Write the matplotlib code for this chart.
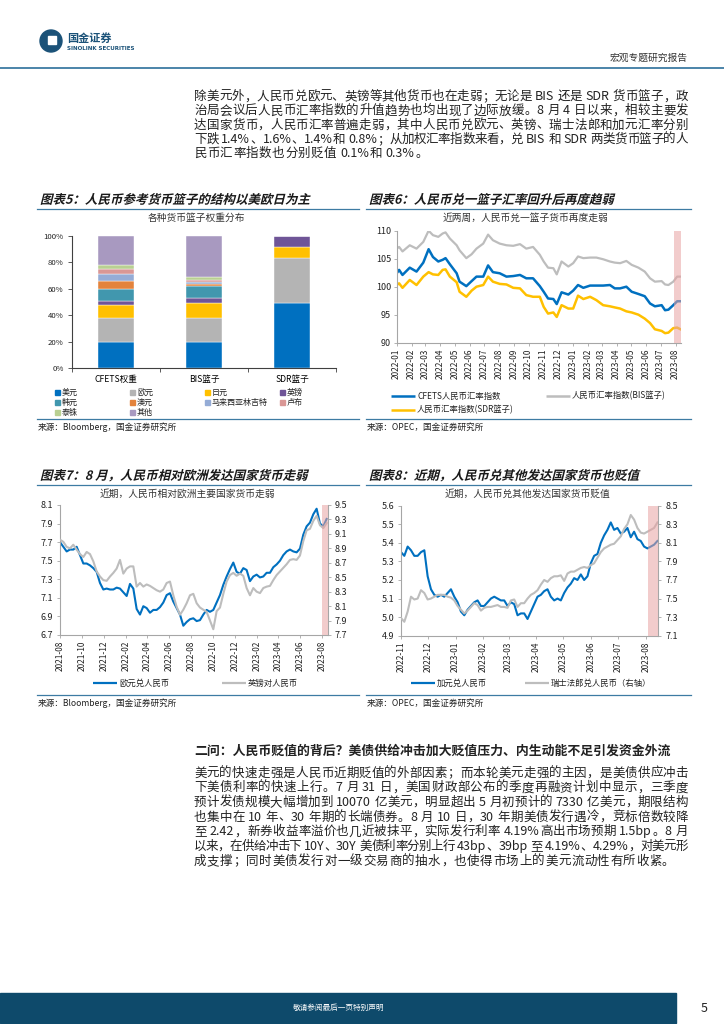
"""
Report page: RMB basket weights and exchange-rate charts
"""

import re
import pandas as pd
import matplotlib
matplotlib.use('Agg')
import matplotlib.pyplot as plt
import matplotlib.dates as mdates
from matplotlib.ticker import FormatStrFormatter
from matplotlib.patches import Rectangle, Circle, PathPatch
from matplotlib.textpath import TextPath
from matplotlib.font_manager import FontProperties
from matplotlib.transforms import Affine2D

plt.rcParams['font.family'] = ['Noto Sans CJK SC', 'DejaVu Sans']
plt.rcParams['axes.unicode_minus'] = False

# ---------------- data ----------------
# chart 5: basket weights (%)
currencies = ['美元', '欧元', '日元', '英镑', '韩元', '澳元', '马来西亚林吉特', '卢布', '泰铢', '其他']
baskets = ['CFETS权重', 'BIS篮子', 'SDR篮子']
cfets_w = [19.9, 17.9, 9.9, 2.9, 9.4, 6.1, 5.0, 3.8, 3.2, 21.9]
bis_w = [19.3, 18.4, 11.8, 3.3, 9.3, 1.5, 1.7, 1.3, 2.0, 31.4]
sdr_w = [49.3, 33.6, 8.6, 8.5, 0, 0, 0, 0, 0, 0]

# chart 6: RMB index vs baskets
idx_dates = ['2022-01-01', '2022-01-06', '2022-01-13', '2022-01-28', '2022-02-11', '2022-02-25',
             '2022-03-08', '2022-03-17', '2022-03-28', '2022-04-06', '2022-04-12', '2022-04-21',
             '2022-05-05', '2022-05-11', '2022-05-25', '2022-06-05', '2022-06-15', '2022-06-29',
             '2022-07-09', '2022-07-19', '2022-08-02', '2022-08-16', '2022-08-30', '2022-09-13',
             '2022-09-26', '2022-10-10', '2022-10-24', '2022-11-01', '2022-11-10', '2022-11-21',
             '2022-11-28', '2022-12-08', '2022-12-22', '2023-01-01', '2023-01-11', '2023-01-22',
             '2023-02-05', '2023-02-18', '2023-03-04', '2023-03-18', '2023-03-28', '2023-04-08',
             '2023-04-21', '2023-05-02', '2023-05-16', '2023-05-29', '2023-06-09', '2023-06-19',
             '2023-07-03', '2023-07-10', '2023-07-17', '2023-07-27', '2023-08-04', '2023-08-11']
cfets_idx = [102.4, 103.0, 102.1, 103.4, 102.7, 104.3, 106.7, 105.3, 104.5, 104.8,
             105.1, 104.0, 102.4, 100.9, 100.1, 101.0, 101.8, 101.8, 103.8, 102.6,
             102.4, 101.8, 101.9, 102.1, 101.5, 101.5, 100.1, 99.1, 97.9, 97.8,
             96.9, 99.0, 98.6, 99.3, 100.3, 99.8, 100.2, 100.2, 100.2, 100.3,
             99.7, 99.7, 100.0, 99.1, 98.7, 98.3, 97.0, 96.5, 96.7, 95.8,
             95.9, 96.7, 97.4, 97.4]
bis_idx = [106.8, 107.1, 106.3, 107.4, 106.8, 108.0, 110.0, 109.2, 108.9, 109.5,
           109.7, 108.6, 107.4, 106.5, 105.1, 105.8, 106.8, 107.7, 109.3, 108.3,
           107.7, 107.4, 107.3, 107.6, 106.8, 107.1, 105.7, 104.5, 103.4, 103.3,
           102.2, 104.5, 103.6, 104.2, 105.4, 105.1, 105.2, 105.2, 104.9, 104.5,
           104.3, 104.2, 104.6, 103.9, 103.4, 102.7, 101.5, 100.9, 101.0, 100.4,
           100.3, 100.9, 101.8, 101.8]
sdr_idx = [100.3, 100.6, 99.8, 101.2, 100.3, 101.8, 102.6, 102.2, 102.1, 103.0,
           103.1, 101.8, 100.8, 99.1, 98.2, 99.3, 100.0, 100.3, 101.8, 100.9,
           100.5, 100.4, 99.8, 99.7, 98.5, 98.2, 98.2, 96.4, 95.2, 95.4,
           94.6, 96.7, 96.1, 96.1, 98.4, 97.8, 98.2, 97.6, 96.7, 96.5,
           96.3, 96.1, 95.6, 95.4, 95.0, 94.3, 93.5, 92.4, 92.1, 91.7,
           91.8, 92.6, 92.7, 92.4]

# chart 7: EUR/CNY (left) and GBP/CNY (right), sampled every ~9 days
eur_gbp_dates = pd.date_range('2021-08-01', '2023-08-13', periods=81)
eur_cny = [7.70, 7.65, 7.60, 7.62, 7.62, 7.65, 7.56, 7.47, 7.47, 7.45,
           7.42, 7.38, 7.26, 7.19, 7.20, 7.19, 7.19, 7.21, 7.20, 7.16,
           7.12, 7.25, 7.20, 6.98, 6.92, 7.01, 6.99, 6.94, 6.97, 6.97,
           7.00, 7.05, 7.13, 7.15, 7.06, 6.99, 6.92, 6.80, 6.84, 6.87,
           6.88, 6.85, 6.86, 6.92, 6.97, 6.95, 6.97, 7.05, 7.13, 7.24,
           7.33, 7.41, 7.48, 7.38, 7.36, 7.42, 7.40, 7.28, 7.33, 7.35,
           7.32, 7.33, 7.37, 7.37, 7.43, 7.46, 7.50, 7.56, 7.60, 7.62,
           7.60, 7.59, 7.63, 7.78, 7.87, 7.91, 8.00, 8.06, 7.90, 7.87,
           7.95]
gbp_cny = [9.02, 8.99, 8.92, 8.90, 8.95, 8.88, 8.82, 8.78, 8.85, 8.82,
           8.72, 8.58, 8.51, 8.46, 8.45, 8.51, 8.56, 8.62, 8.74, 8.55,
           8.62, 8.65, 8.65, 8.37, 8.42, 8.37, 8.40, 8.38, 8.35, 8.32,
           8.30, 8.33, 8.42, 8.44, 8.25, 8.09, 7.98, 8.05, 8.14, 8.25,
           8.27, 8.14, 8.08, 8.05, 8.02, 7.90, 7.78, 8.03, 8.08, 8.27,
           8.44, 8.53, 8.56, 8.52, 8.55, 8.52, 8.35, 8.25, 8.35, 8.30,
           8.28, 8.35, 8.37, 8.38, 8.46, 8.53, 8.58, 8.63, 8.68, 8.74,
           8.75, 8.74, 8.80, 9.00, 9.15, 9.17, 9.28, 9.35, 9.22, 9.18,
           9.25]

# chart 8: CAD/CNY (left) and CHF/CNY (right), sampled every ~4 days
cad_chf_dates = pd.date_range('2022-11-01', '2023-08-14', periods=78)
cad_cny = [5.35, 5.33, 5.38, 5.36, 5.33, 5.33, 5.35, 5.36, 5.22, 5.15,
           5.12, 5.11, 5.12, 5.11, 5.13, 5.15, 5.11, 5.08, 5.03, 5.01,
           5.04, 5.06, 5.08, 5.09, 5.06, 5.06, 5.08, 5.10, 5.11, 5.10,
           5.09, 5.09, 5.06, 5.08, 5.07, 5.01, 5.02, 5.02, 4.99, 5.03,
           5.07, 5.11, 5.12, 5.14, 5.15, 5.11, 5.09, 5.10, 5.09, 5.13,
           5.16, 5.18, 5.21, 5.20, 5.23, 5.20, 5.22, 5.29, 5.33, 5.34,
           5.40, 5.44, 5.47, 5.51, 5.47, 5.48, 5.45, 5.46, 5.48, 5.43,
           5.46, 5.42, 5.41, 5.38, 5.37, 5.38, 5.39, 5.41]
chf_cny = [7.29, 7.25, 7.36, 7.52, 7.49, 7.50, 7.59, 7.56, 7.49, 7.50,
           7.52, 7.54, 7.54, 7.54, 7.52, 7.51, 7.48, 7.42, 7.38, 7.34,
           7.37, 7.41, 7.45, 7.43, 7.37, 7.40, 7.41, 7.41, 7.42, 7.43,
           7.41, 7.41, 7.40, 7.48, 7.49, 7.41, 7.45, 7.45, 7.50, 7.54,
           7.56, 7.59, 7.65, 7.70, 7.68, 7.72, 7.74, 7.74, 7.75, 7.69,
           7.77, 7.79, 7.79, 7.81, 7.83, 7.84, 7.83, 7.86, 7.88, 7.94,
           8.00, 8.04, 8.06, 8.08, 8.09, 8.13, 8.17, 8.25, 8.30, 8.40,
           8.35, 8.26, 8.21, 8.20, 8.22, 8.24, 8.26, 8.32]

para1 = ['除美元外，人民币兑欧元、英镑等其他货币也在走弱；无论是 BIS 还是 SDR 货币篮子，政',
         '治局会议后人民币汇率指数的升值趋势也均出现了边际放缓。8 月 4 日以来，相较主要发',
         '达国家货币，人民币汇率普遍走弱，其中人民币兑欧元、英镑、瑞士法郎和加元汇率分别',
         '下跌 1.4%、1.6%、1.4%和 0.8%；从加权汇率指数来看，兑 BIS 和 SDR 两类货币篮子的人',
         '民币汇率指数也分别贬值 0.1%和 0.3%。']
heading2 = '二问：人民币贬值的背后？美债供给冲击加大贬值压力、内生动能不足引发资金外流'
para2 = ['美元的快速走强是人民币近期贬值的外部因素；而本轮美元走强的主因，是美债供应冲击',
         '下美债利率的快速上行。7 月 31 日，美国财政部公布的季度再融资计划中显示，三季度',
         '预计发债规模大幅增加到 10070 亿美元，明显超出 5 月初预计的 7330 亿美元，期限结构',
         '也集中在 10 年、30 年期的长端债券。8 月 10 日，30 年期美债发行遇冷，竞标倍数较降',
         '至 2.42，新券收益率溢价也几近被抹平，实际发行利率 4.19%高出市场预期 1.5bp。8 月',
         '以来，在供给冲击下 10Y、30Y 美债利率分别上行 43bp、39bp 至 4.19%、4.29%，对美元形',
         '成支撑；同时美债发行对一级交易商的抽水，也使得市场上的美元流动性有所收紧。']

# ---------------- style ----------------
W, H = 724, 1024
LOGO = '#1b5278'
RULE = '#3d7ba3'
TXT = '#222222'
SPINE = '#a6a6a6'
BLUE = '#0070c0'
GRAY = '#bdbdbd'
GOLD = '#ffc000'
SHADE = '#e9a3a3'
colors5 = ['#0070c0', '#b4b4b4', '#ffc000', '#6f5597', '#4197ae',
           '#e3833c', '#95acd6', '#d99795', '#b9d092', '#a899c0']


def px_rect(x0, y0, x1, y1):
    return [x0 / W, 1 - y1 / H, (x1 - x0) / W, (y1 - y0) / H]


fig = plt.figure(figsize=(W / 100, H / 100), dpi=100)
bg = fig.add_axes([0, 0, 1, 1])
bg.set_xlim(0, W)
bg.set_ylim(H, 0)
bg.axis('off')
renderer = fig.canvas.get_renderer()


def put_line(s, y, x0=194, x1=688, size=9, justify=True):
    # place token by token so the line can be stretched to the full column width
    toks = re.findall(r'[A-Za-z0-9.%]+| |\S', s)
    em = size * 100 / 72
    objs, widths = [], []
    for t in toks:
        if t == ' ':
            objs.append(None)
            widths.append(3.0)
            continue
        o = bg.text(0, y, t, fontsize=size, va='center', color=TXT)
        objs.append(o)
        if t.isascii():
            widths.append(o.get_window_extent(renderer).width + 0.5)
        else:
            widths.append(em)
    n_gaps = sum(1 for o in objs if o is not None) - 1
    gap = (x1 - x0 - sum(widths)) / n_gaps if justify else 0.5
    x = x0
    for o, w in zip(objs, widths):
        if o is None:
            x += w
            continue
        o.set_x(x)
        x += w + gap


def slant_title(x, y, s, size_px=12.5):
    prop = FontProperties(family=['Noto Sans CJK SC', 'DejaVu Sans'], weight='bold')
    tp = TextPath((0, 0), s, size=size_px, prop=prop)
    tr = Affine2D().skew_deg(14, 0).scale(1, -1).translate(x, y)
    bg.add_patch(PathPatch(tr.transform_path(tp), fc='#1a1a1a', ec='none', lw=0))


def frame(x0, x1, y_title, y_src, title, source, subtitle, sub_x):
    slant_title(x0 + 3, y_title + 4.7, title)
    bg.plot([x0, x1], [y_title + 10, y_title + 10], color=RULE, lw=0.9)
    bg.text(sub_x, y_title + 19, subtitle, fontsize=7, ha='center', va='center', color='#333333')
    bg.plot([x0, x1], [y_src - 8, y_src - 8], color=RULE, lw=0.9)
    bg.text(x0 + 1, y_src, source, fontsize=6.2, va='center', color=TXT)


def line_legend(x, y, color, label, lw=1.8):
    bg.plot([x, x + 24], [y, y], color=color, lw=lw, solid_capstyle='butt')
    bg.text(x + 26, y, label, fontsize=6, va='center', color=TXT)


def style_axes(ax, spine_color=SPINE):
    ax.set_facecolor('none')
    for side in ['top', 'right']:
        ax.spines[side].set_visible(False)
    for side in ['left', 'bottom']:
        ax.spines[side].set_color(spine_color)
        ax.spines[side].set_linewidth(0.8)
    ax.tick_params(axis='both', labelsize=6.2, length=2, width=0.6,
                   color=spine_color, labelcolor=TXT, pad=2)


# ---------------- header / footer ----------------
bg.add_patch(Circle((51, 41), 11, color=LOGO))
bg.add_patch(Rectangle((48, 36), 8, 8, color='white'))
bg.text(67, 38, '国金证券', fontsize=8, fontweight='bold', color=LOGO, va='center')
bg.text(67, 48.5, 'SINOLINK SECURITIES', fontsize=4, fontweight='bold', color=LOGO,
        va='center', family='DejaVu Sans')
bg.text(688, 58, '宏观专题研究报告', fontsize=7, ha='right', va='center', color='#333333')
bg.plot([0, W], [68, 68], color=RULE, lw=1.3)

bg.add_patch(Rectangle((0, 993), 676, 30, color='#0e4a6b'))
bg.text(339, 1008, '敬请参阅最后一页特别声明', color='white', fontsize=5.5, ha='center', va='center')
bg.text(704, 1008, '5', fontsize=9, ha='center', va='center', color=TXT)

# ---------------- body text ----------------
for i, s in enumerate(para1):
    put_line(s, 96.7 + 14.2 * i, justify=(i < len(para1) - 1))
bg.text(194, 751, heading2, fontsize=9.3, fontweight='bold', va='center', color=TXT)
for i, s in enumerate(para2):
    put_line(s, 773 + 14.7 * i, justify=(i < len(para2) - 1))

# ---------------- chart 5: stacked bars ----------------
frame(37, 359, 199, 427, '图表5：人民币参考货币篮子的结构以美欧日为主',
      '来源：Bloomberg，国金证券研究所', '各种货币篮子权重分布', 196)
ax5 = fig.add_axes(px_rect(72, 235.7, 336, 368))
style_axes(ax5, '#404040')
weights = [cfets_w, bis_w, sdr_w]
bottoms = [0, 0, 0]
for k, name in enumerate(currencies):
    vals = [w[k] for w in weights]
    ax5.bar(range(3), vals, width=0.41, bottom=bottoms, color=colors5[k],
            edgecolor='white', linewidth=0.3)
    bottoms = [b + v for b, v in zip(bottoms, vals)]
ax5.set_xlim(-0.5, 2.5)
ax5.set_ylim(0, 100)
ax5.set_yticks([0, 20, 40, 60, 80, 100])
ax5.set_yticklabels(['%d%%' % v for v in [0, 20, 40, 60, 80, 100]])
ax5.set_xticks([-0.5, 0.5, 1.5, 2.5])
ax5.set_xticklabels([])
ax5.set_xticks([0, 1, 2], minor=True)
ax5.set_xticklabels(baskets, minor=True)
ax5.tick_params(axis='both', which='major', length=3, labelsize=5.6, pad=3)
ax5.tick_params(axis='x', which='minor', length=0, labelsize=6.2, pad=5)

for i, name in enumerate(currencies):
    r, c = divmod(i, 4)
    x, y = 57 + c * 75, 392 + r * 10.2
    bg.add_patch(Rectangle((x - 2.5, y - 2.5), 5, 5, color=colors5[i]))
    bg.text(x + 5, y, name, fontsize=5.8, va='center', color=TXT)

# ---------------- chart 6: index lines ----------------
frame(366, 691, 199, 427, '图表6：人民币兑一篮子汇率回升后再度趋弱',
      '来源：OPEC，国金证券研究所', '近两周，人民币兑一篮子货币再度走弱', 525)
ax6 = fig.add_axes(px_rect(396.7, 230.7, 681, 342.7))
style_axes(ax6)
d6 = pd.to_datetime(idx_dates)
ax6.plot(d6, bis_idx, color=GRAY, lw=1.6)
ax6.plot(d6, sdr_idx, color=GOLD, lw=1.8)
ax6.plot(d6, cfets_idx, color=BLUE, lw=1.8)
ax6.axvspan(pd.Timestamp('2023-07-28'), pd.Timestamp('2023-08-12'), color=SHADE, alpha=0.55,
            lw=0, zorder=3)
ax6.set_xlim(pd.Timestamp('2022-01-01'), pd.Timestamp('2023-08-12'))
ax6.set_ylim(90, 110)
ax6.set_yticks([90, 95, 100, 105, 110])
ax6.xaxis.set_major_locator(mdates.MonthLocator())
ax6.xaxis.set_major_formatter(mdates.DateFormatter('%Y-%m'))
ax6.tick_params(axis='x', labelrotation=90, labelsize=6)
ax6.tick_params(axis='y', labelsize=6.5)

line_legend(391, 396, BLUE, 'CFETS人民币汇率指数')
line_legend(546, 396, GRAY, '人民币汇率指数(BIS篮子)')
line_legend(391, 410, GOLD, '人民币汇率指数(SDR篮子)')

# ---------------- chart 7: EUR & GBP ----------------
frame(37, 359, 475, 703, '图表7：8 月，人民币相对欧洲发达国家货币走弱',
      '来源：Bloomberg，国金证券研究所', '近期，人民币相对欧洲主要国家货币走弱', 187)
ax7 = fig.add_axes(px_rect(60, 505, 327.7, 635))
style_axes(ax7)
ax7.plot(eur_gbp_dates, eur_cny, color=BLUE, lw=1.5)
ax7.set_xlim(pd.Timestamp('2021-08-01'), pd.Timestamp('2023-08-16'))
ax7.set_ylim(6.7, 8.1)
ax7.set_yticks([6.7, 6.9, 7.1, 7.3, 7.5, 7.7, 7.9, 8.1])
ax7.yaxis.set_major_formatter(FormatStrFormatter('%.1f'))
ax7.xaxis.set_major_locator(mdates.MonthLocator(bymonth=[2, 4, 6, 8, 10, 12]))
ax7.xaxis.set_major_formatter(mdates.DateFormatter('%Y-%m'))
ax7.tick_params(axis='x', labelrotation=90, labelsize=6)
ax7.tick_params(axis='y', labelsize=6.5, pad=3)
ax7r = ax7.twinx()
ax7r.set_facecolor('none')
for side in ['top', 'left', 'bottom']:
    ax7r.spines[side].set_visible(False)
ax7r.spines['right'].set_color(SPINE)
ax7r.spines['right'].set_linewidth(0.8)
ax7r.plot(eur_gbp_dates, gbp_cny, color=GRAY, lw=1.5)
ax7r.axvspan(pd.Timestamp('2023-07-30'), pd.Timestamp('2023-08-16'), color=SHADE, alpha=0.55,
             lw=0, zorder=3)
ax7r.set_ylim(7.7, 9.5)
ax7r.set_yticks([7.7, 7.9, 8.1, 8.3, 8.5, 8.7, 8.9, 9.1, 9.3, 9.5])
ax7r.yaxis.set_major_formatter(FormatStrFormatter('%.1f'))
ax7r.tick_params(axis='y', labelsize=6.5, length=2, width=0.6, color=SPINE,
                 labelcolor=TXT, pad=3)

line_legend(93, 683, BLUE, '欧元兑人民币', lw=1.6)
line_legend(222, 683, GRAY, '英镑对人民币', lw=1.6)

# ---------------- chart 8: CAD & CHF ----------------
frame(366, 691, 475, 703, '图表8：近期，人民币兑其他发达国家货币也贬值',
      '来源：OPEC，国金证券研究所', '近期，人民币兑其他发达国家货币贬值', 527)
ax8 = fig.add_axes(px_rect(401, 505.7, 658.3, 635.7))
style_axes(ax8)
ax8.plot(cad_chf_dates, cad_cny, color=BLUE, lw=1.5)
ax8.set_xlim(pd.Timestamp('2022-11-01'), pd.Timestamp('2023-08-15'))
ax8.set_ylim(4.9, 5.6)
ax8.set_yticks([4.9, 5.0, 5.1, 5.2, 5.3, 5.4, 5.5, 5.6])
ax8.yaxis.set_major_formatter(FormatStrFormatter('%.1f'))
ax8.xaxis.set_major_locator(mdates.MonthLocator())
ax8.xaxis.set_major_formatter(mdates.DateFormatter('%Y-%m'))
ax8.tick_params(axis='x', labelrotation=90, labelsize=6)
ax8.tick_params(axis='y', labelsize=6.5, pad=3)
ax8r = ax8.twinx()
ax8r.set_facecolor('none')
for side in ['top', 'left', 'bottom']:
    ax8r.spines[side].set_visible(False)
ax8r.spines['right'].set_color(SPINE)
ax8r.spines['right'].set_linewidth(0.8)
ax8r.plot(cad_chf_dates, chf_cny, color=GRAY, lw=1.5)
ax8r.axvspan(pd.Timestamp('2023-08-03'), pd.Timestamp('2023-08-15'), color=SHADE, alpha=0.55,
             lw=0, zorder=3)
ax8r.set_ylim(7.1, 8.5)
ax8r.set_yticks([7.1, 7.3, 7.5, 7.7, 7.9, 8.1, 8.3, 8.5])
ax8r.yaxis.set_major_formatter(FormatStrFormatter('%.1f'))
ax8r.tick_params(axis='y', labelsize=6.5, length=2, width=0.6, color=SPINE,
                 labelcolor=TXT, pad=3)

line_legend(411, 683, BLUE, '加元兑人民币', lw=1.6)
line_legend(525, 683, GRAY, '瑞士法郎兑人民币（右轴）', lw=1.6)

plt.savefig('out.png', dpi=100)
